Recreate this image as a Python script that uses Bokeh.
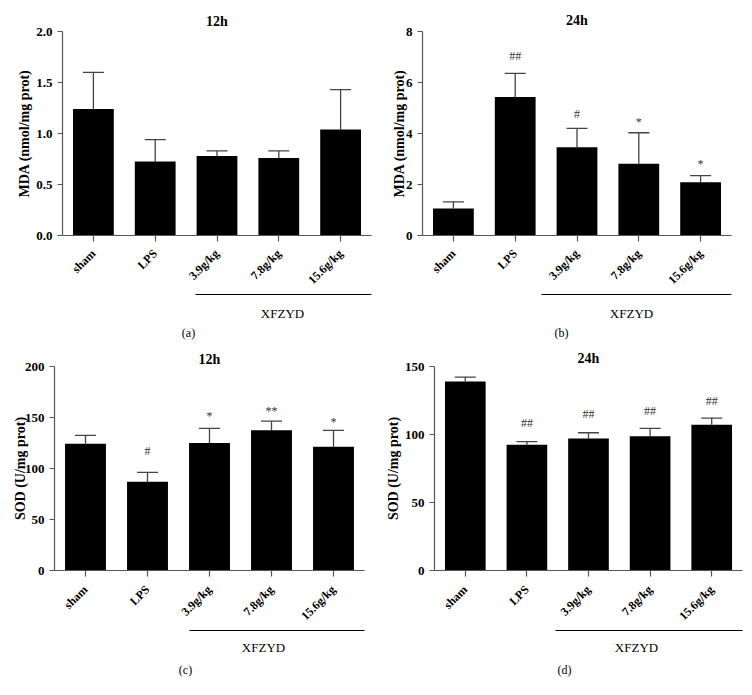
import math
from bokeh.plotting import figure
from bokeh.models import (Range1d, FixedTicker, NumeralTickFormatter,
                          LinearAxis)
from bokeh.layouts import column, row
from bokeh.embed import file_html
from bokeh.resources import INLINE
from bokeh.core.properties import value

# ---------------- data ----------------
groups = ["sham", "LPS", "3.9g/kg", "7.8g/kg", "15.6g/kg"]

mda_12h_mean = [1.24, 0.725, 0.78, 0.76, 1.04]
mda_12h_sd = [0.36, 0.215, 0.05, 0.07, 0.39]
mda_12h_sig = ["", "", "", "", ""]
mda_12h_sig_y = [0, 0, 0, 0, 0]

mda_24h_mean = [1.06, 5.43, 3.46, 2.81, 2.09]
mda_24h_sd = [0.26, 0.93, 0.74, 1.22, 0.26]
mda_24h_sig = ["", "##", "#", "*", "*"]
mda_24h_sig_y = [0, 7.02, 4.75, 4.47, 2.82]

sod_12h_mean = [124.3, 87.1, 125.0, 137.4, 121.4]
sod_12h_sd = [8.2, 9.1, 14.3, 9.1, 16.0]
sod_12h_sig = ["", "#", "*", "**", "*"]
sod_12h_sig_y = [0, 117.6, 151.0, 155.9, 146.0]

sod_24h_mean = [139.0, 92.5, 97.1, 98.8, 107.2]
sod_24h_sd = [3.2, 2.2, 4.2, 5.7, 4.9]
sod_24h_sig = ["", "##", "##", "##", "##"]
sod_24h_sig_y = [0, 108.3, 115.0, 117.6, 124.8]

mda_ticks = [0, 0.5, 1.0, 1.5, 2.0]
mda24_ticks = [0, 2, 4, 6, 8]
sod12_ticks = [0, 50, 100, 150, 200]
sod24_ticks = [0, 50, 100, 150]

SERIF = "Liberation Serif"
AX = "#555555"
ERR = "#444444"


def panel(region, frame, ymax, ticks, fmt, ylabel, title, title_off,
          title_standoff, xlab_standoff, bracket, xfzyd_x, letter, letter_x,
          letter_standoff, means, sds, sig, sig_y, ylab_standoff):
    x0, y0, x1, y1 = region
    fl, ft, fr, fb = frame
    n = len(groups)
    xs = [i + 0.5 for i in range(n)]          # category centres

    def dx(px):
        return round((px - fl) / (fr - fl) * n, 4)

    p = figure(x_range=Range1d(0, n), y_range=Range1d(0, ymax),
               width=x1 - x0, height=y1 - y0,
               min_border_left=fl - x0, min_border_right=x1 - fr,
               min_border_top=ft - y0, min_border_bottom=y1 - fb,
               output_backend="svg", toolbar_location=None)
    p.outline_line_color = None
    p.xgrid.visible = False
    p.ygrid.visible = False
    p.background_fill_color = "white"
    p.border_fill_color = "white"

    upper = [m + s for m, s in zip(means, sds)]
    p.segment(x0=xs, y0=means, x1=xs, y1=upper,
              line_color=ERR, line_width=1.3)
    p.scatter(x=xs, y=upper, marker="dash", size=21,
              line_color=ERR, line_width=1.3)
    p.vbar(x=xs, top=means, width=0.66, fill_color="black",
           line_color=None)

    sx = [g for g, t in zip(xs, sig) if t]
    sy = [y for y, t in zip(sig_y, sig) if t]
    st = [t for t in sig if t]
    if st:
        p.text(x=sx, y=sy, text=st, text_font=value(SERIF),
               text_font_size="12px", text_color="#333333",
               text_align="center", text_baseline="middle")

    # title
    p.title.text = title
    p.title.align = "center"
    p.title.text_font = SERIF
    p.title.text_font_style = "bold"
    p.title.text_font_size = "14px"
    p.title.text_color = "black"
    p.title.standoff = title_standoff
    p.title.offset = title_off

    # axes
    p.xaxis.ticker = FixedTicker(ticks=xs)
    p.xaxis.major_label_overrides = {x: g for x, g in zip(xs, groups)}
    for ax in (p.xaxis[0], p.yaxis[0]):
        ax.axis_line_color = AX
        ax.axis_line_width = 1.2
        ax.major_tick_line_color = AX
        ax.major_tick_line_width = 1.2
        ax.major_tick_in = 0
        ax.minor_tick_line_color = None
        ax.major_label_text_font = SERIF
        ax.major_label_text_font_style = "bold"
        ax.major_label_text_color = "black"
        ax.major_label_text_font_size = "13px"
    p.xaxis.major_label_text_font_size = "12px"
    p.yaxis.major_tick_out = 5
    p.yaxis.major_label_standoff = 5
    p.xaxis.major_tick_out = 6
    p.xaxis.major_label_standoff = xlab_standoff
    p.xaxis.axis_label_standoff = 0
    p.xaxis.major_label_orientation = math.pi / 4
    p.yaxis.ticker = FixedTicker(ticks=ticks)
    p.yaxis.formatter = NumeralTickFormatter(format=fmt)
    p.yaxis.axis_label = ylabel
    p.yaxis.axis_label_text_font = SERIF
    p.yaxis.axis_label_text_font_style = "bold"
    p.yaxis.axis_label_text_font_size = "14px"
    p.yaxis.axis_label_text_color = "black"
    p.yaxis.axis_label_standoff = ylab_standoff

    # group bracket with "XFZYD"
    b0, b1 = dx(bracket[0]), dx(bracket[1])
    mid = dx(xfzyd_x)
    ax2 = LinearAxis(bounds=(b0, b1),
                     ticker=FixedTicker(ticks=[mid]),
                     major_label_overrides={mid: "XFZYD"},
                     axis_line_color="black", axis_line_width=1,
                     major_tick_in=0, major_tick_out=0,
                     minor_tick_line_color=None,
                     major_label_standoff=bracket[2],
                     axis_label_standoff=0,
                     major_label_text_font=SERIF,
                     major_label_text_font_size="13px",
                     major_label_text_color="black")
    p.add_layout(ax2, "below")

    # panel letter
    lx = dx(letter_x)
    ax3 = LinearAxis(ticker=FixedTicker(ticks=[lx]),
                     major_label_overrides={lx: letter},
                     axis_line_color=None, major_tick_line_color=None,
                     minor_tick_line_color=None,
                     major_label_standoff=letter_standoff,
                     axis_label_standoff=0,
                     major_label_text_font=SERIF,
                     major_label_text_font_size="12px",
                     major_label_text_color="black")
    p.add_layout(ax3, "below")
    return p


pa = panel((0, 0, 376, 342), (62, 31, 371, 236), 2.0, mda_ticks, "0.0",
           "MDA (nmol/mg prot)", "12h", -3, 6, 10, (195, 372, 11),
           282, "(a)", 188, -4,
           mda_12h_mean, mda_12h_sd, mda_12h_sig, mda_12h_sig_y, 1)
pb = panel((376, 0, 752, 342), (422, 31, 731, 236), 8, mda24_ticks, "0",
           "MDA (nmol/mg prot)", "24h", 0, 8, 10, (541, 739, 11),
           631, "(b)", 561, -4,
           mda_24h_mean, mda_24h_sd, mda_24h_sig, mda_24h_sig_y, -4)
pc = panel((0, 342, 376, 695), (54, 366, 364, 570), 200, sod12_ticks, "0",
           "SOD (U/mg prot)", "12h", -5, 0, 11, (189, 364, 9),
           263, "(c)", 185, -1,
           sod_12h_mean, sod_12h_sd, sod_12h_sig, sod_12h_sig_y, -6)
pd_ = panel((376, 342, 752, 695), (434, 366, 742, 570), 150, sod24_ticks, "0",
            "SOD (U/mg prot)", "24h", -5, 2, 11, (555, 744, 9),
            636, "(d)", 564, -1,
            sod_24h_mean, sod_24h_sd, sod_24h_sig, sod_24h_sig_y, 1)

layout = column(row(pa, pb), row(pc, pd_))
open("out.html", "w").write(file_html(layout, INLINE))
